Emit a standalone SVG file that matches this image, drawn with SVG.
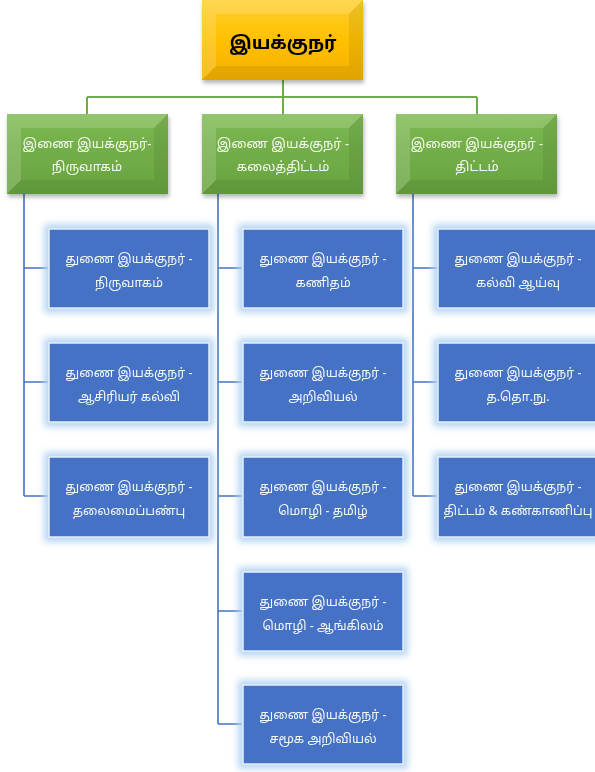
<svg xmlns="http://www.w3.org/2000/svg" width="595" height="772" viewBox="0 0 595 772">
<defs>
<linearGradient id="gy" x1="0" y1="0" x2="0" y2="1">
<stop offset="0" stop-color="#FFCF2E"/><stop offset="0.5" stop-color="#FFC000"/><stop offset="1" stop-color="#F4B000"/>
</linearGradient>
<linearGradient id="gg" x1="0" y1="0" x2="0" y2="1">
<stop offset="0" stop-color="#7EBA52"/><stop offset="0.5" stop-color="#71AD47"/><stop offset="1" stop-color="#68A33F"/>
</linearGradient>
<filter id="glow" x="-20%" y="-25%" width="140%" height="150%">
<feMorphology in="SourceAlpha" operator="dilate" radius="4" result="d"/>
<feGaussianBlur in="d" stdDeviation="3.5" result="b"/>
<feFlood flood-color="#B4D4F2"/>
<feComposite in2="b" operator="in" result="g"/>
<feMerge><feMergeNode in="g"/><feMergeNode in="SourceGraphic"/></feMerge>
</filter>
<filter id="shadow" x="-10%" y="-10%" width="120%" height="130%">
<feGaussianBlur in="SourceAlpha" stdDeviation="2"/>
<feOffset dx="1" dy="3" result="o"/>
<feFlood flood-color="#000" flood-opacity="0.3"/>
<feComposite in2="o" operator="in" result="s"/>
<feMerge><feMergeNode in="s"/><feMergeNode in="SourceGraphic"/></feMerge>
</filter>
</defs>
<style>
.bl{fill:#4472C4;stroke:#E3EEFA;stroke-width:1.5}
.bt{fill:#F4F7FC;font-family:"Noto Sans Tamil","Latha","Noto Sans",sans-serif;font-size:12.5px;text-anchor:middle}
.gt{fill:#F4F9EF;font-family:"Noto Sans Tamil","Latha","Noto Sans",sans-serif;font-size:13px;text-anchor:middle}
.yt{fill:#000000;font-family:"Noto Sans Tamil","Latha","Noto Sans",sans-serif;font-size:18px;font-weight:bold;text-anchor:middle}
.hl{fill:#FFFFFF;opacity:0.16}
.dk{fill:#000000;opacity:0.07}
.cg{stroke:#70AD47;stroke-width:2;fill:none}
.cb{stroke:#4472C4;stroke-width:1.6;fill:none}
</style>
<g id="connectors">
<path class="cg" d="M283 80V97M87 97H477M87 97V114M283 97V114M477 97V114"/>
<path class="cb" d="M24 194V496M24 268H49M24 382H49M24 496H49"/>
<path class="cb" d="M218 194V724M218 268H243M218 382H243M218 496H243M218 611H243M218 724H243"/>
<path class="cb" d="M413 194V496M413 268H438M413 382H438M413 496H438"/>
</g>
<g id="n-top" filter="url(#shadow)">
<rect x="202" y="0" width="161" height="80" fill="url(#gy)"/>
<polygon class="hl" points="202,0 363,0 349,14 216,14"/>
<polygon class="hl" points="202,0 216,14 216,66 202,80" opacity="0.08"/>
<polygon class="dk" points="363,0 363,80 349,66 349,14"/>
<polygon class="dk" points="202,80 363,80 349,66 216,66"/>
<text class="yt" x="283" y="49">இயக்குநர்</text>
</g>
<g id="n-g1" filter="url(#shadow)">
<rect x="7" y="114" width="161" height="80" fill="url(#gg)"/>
<polygon class="hl" points="7,114 168,114 154,128 21,128"/>
<polygon class="hl" points="7,114 21,128 21,180 7,194" opacity="0.08"/>
<polygon class="dk" points="168,114 168,194 154,180 154,128"/>
<polygon class="dk" points="7,194 168,194 154,180 21,180"/>
<text class="gt" x="87" y="148">இணை இயக்குநர்-</text>
<text class="gt" x="87" y="171">நிருவாகம்</text>
</g>
<g id="n-g2" filter="url(#shadow)">
<rect x="202" y="114" width="161" height="80" fill="url(#gg)"/>
<polygon class="hl" points="202,114 363,114 349,128 216,128"/>
<polygon class="hl" points="202,114 216,128 216,180 202,194" opacity="0.08"/>
<polygon class="dk" points="363,114 363,194 349,180 349,128"/>
<polygon class="dk" points="202,194 363,194 349,180 216,180"/>
<text class="gt" x="283" y="148">இணை இயக்குநர் -</text>
<text class="gt" x="283" y="171">கலைத்திட்டம்</text>
</g>
<g id="n-g3" filter="url(#shadow)">
<rect x="396" y="114" width="161" height="80" fill="url(#gg)"/>
<polygon class="hl" points="396,114 557,114 543,128 410,128"/>
<polygon class="hl" points="396,114 410,128 410,180 396,194" opacity="0.08"/>
<polygon class="dk" points="557,114 557,194 543,180 543,128"/>
<polygon class="dk" points="396,194 557,194 543,180 410,180"/>
<text class="gt" x="477" y="148">இணை இயக்குநர் -</text>
<text class="gt" x="477" y="171">திட்டம்</text>
</g>
<g id="n-a1" filter="url(#glow)"><rect class="bl" x="49" y="229" width="160" height="79"/><text class="bt" x="129" y="263">துணை இயக்குநர் -</text><text class="bt" x="129" y="287">நிருவாகம்</text></g>
<g id="n-a2" filter="url(#glow)"><rect class="bl" x="49" y="343" width="160" height="79"/><text class="bt" x="129" y="377">துணை இயக்குநர் -</text><text class="bt" x="129" y="401">ஆசிரியர் கல்வி</text></g>
<g id="n-a3" filter="url(#glow)"><rect class="bl" x="49" y="457" width="160" height="80"/><text class="bt" x="129" y="491">துணை இயக்குநர் -</text><text class="bt" x="129" y="515">தலைமைப்பண்பு</text></g>
<g id="n-b1" filter="url(#glow)"><rect class="bl" x="243" y="229" width="160" height="79"/><text class="bt" x="323" y="263">துணை இயக்குநர் -</text><text class="bt" x="323" y="287">கணிதம்</text></g>
<g id="n-b2" filter="url(#glow)"><rect class="bl" x="243" y="343" width="160" height="79"/><text class="bt" x="323" y="377">துணை இயக்குநர் -</text><text class="bt" x="323" y="401">அறிவியல்</text></g>
<g id="n-b3" filter="url(#glow)"><rect class="bl" x="243" y="457" width="160" height="80"/><text class="bt" x="323" y="491">துணை இயக்குநர் -</text><text class="bt" x="323" y="515">மொழி - தமிழ்</text></g>
<g id="n-b4" filter="url(#glow)"><rect class="bl" x="243" y="572" width="160" height="79"/><text class="bt" x="323" y="606">துணை இயக்குநர் -</text><text class="bt" x="323" y="630">மொழி - ஆங்கிலம்</text></g>
<g id="n-b5" filter="url(#glow)"><rect class="bl" x="243" y="685" width="160" height="79"/><text class="bt" x="323" y="719">துணை இயக்குநர் -</text><text class="bt" x="323" y="743">சமூக அறிவியல்</text></g>
<g id="n-c1" filter="url(#glow)"><rect class="bl" x="438" y="229" width="160" height="79"/><text class="bt" x="518" y="263">துணை இயக்குநர் -</text><text class="bt" x="518" y="287">கல்வி ஆய்வு</text></g>
<g id="n-c2" filter="url(#glow)"><rect class="bl" x="438" y="343" width="160" height="79"/><text class="bt" x="518" y="377">துணை இயக்குநர் -</text><text class="bt" x="518" y="401">த.தொ.நு.</text></g>
<g id="n-c3" filter="url(#glow)"><rect class="bl" x="438" y="457" width="160" height="80"/><text class="bt" x="518" y="491">துணை இயக்குநர் -</text><text class="bt" x="518" y="515">திட்டம் &amp; கண்காணிப்பு</text></g>
</svg>
